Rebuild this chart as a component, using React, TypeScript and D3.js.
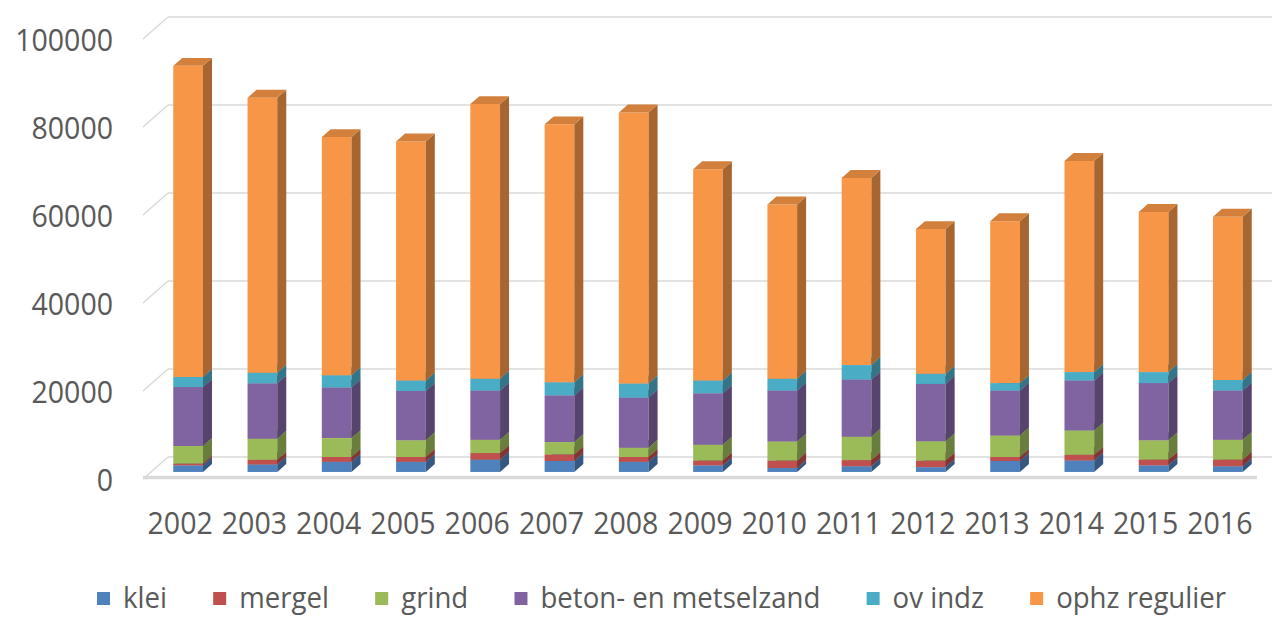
import React, { useEffect, useRef } from 'react';
import * as d3 from 'd3';

const years = ['2002', '2003', '2004', '2005', '2006', '2007', '2008', '2009', '2010', '2011', '2012', '2013', '2014', '2015', '2016'];
const klei = [1500, 1700, 2300, 2300, 2800, 2500, 2300, 1500, 900, 1300, 1100, 2500, 2600, 1500, 1300];
const mergel = [400, 1050, 1100, 1100, 1500, 1500, 1100, 1100, 1700, 1400, 1500, 900, 1300, 1300, 1500];
const grind = [4000, 4800, 4300, 3800, 3000, 2800, 2100, 3600, 4300, 5300, 4400, 4900, 5500, 4400, 4500];
const beton = [13400, 12600, 11500, 11200, 11200, 10600, 11400, 11700, 11600, 13000, 13000, 10200, 11400, 13000, 11200];
const ovIndz = [2300, 2400, 2800, 2400, 2700, 3000, 3200, 2900, 2700, 3300, 2300, 1700, 1900, 2500, 2400];
const ophz = [70700, 62500, 54100, 54300, 62400, 58600, 61600, 48000, 39600, 42500, 32900, 36800, 48000, 36400, 37100];
const yTicks = [0, 20000, 40000, 60000, 80000, 100000];

const seriesNames = ['klei', 'mergel', 'grind', 'beton- en metselzand', 'ov indz', 'ophz regulier'];
const seriesValues = [klei, mergel, grind, beton, ovIndz, ophz];
const seriesColors = ['#4f81bd', '#c0504d', '#9bbb59', '#8064a2', '#4bacc6', '#f79646'];

const W = 1272;
const H = 617;
const FONT = '"Open Sans", "Noto Sans", sans-serif';
const TEXT_COLOR = '#595959';
const GRID = '#d9d9d9';

export default function App() {
  const svgRef = useRef<SVGSVGElement>(null);

  useEffect(() => {
    if (!svgRef.current) return;
    const svg = d3.select(svgRef.current);
    svg.selectAll('*').remove();

    // oblique 3d box
    const left = 143;
    const right = 1257;
    const depthDx = 25;
    const depthDy = 22;
    const z0 = 0.32;
    const z1 = 0.68;

    const y = d3.scaleLinear().domain([0, 100000]).range([479, 39]);
    const x = d3.scaleBand<string>().domain(years).range([left, right]).padding(0);
    const barW = x.bandwidth() * 0.4;

    const px = (xv: number, z: number) => xv + z * depthDx;
    const py = (v: number, z: number) => y(v) - z * depthDy;

    // gridlines on back + left wall
    const grid = svg.append('g');
    yTicks.forEach(t => {
      grid.append('line')
        .attr('x1', px(left, 0)).attr('y1', py(t, 0))
        .attr('x2', px(left, 1)).attr('y2', py(t, 1))
        .attr('stroke', GRID).attr('stroke-width', 1.5);
      grid.append('line')
        .attr('x1', px(left, 1)).attr('y1', py(t, 1))
        .attr('x2', px(right, 1)).attr('y2', py(t, 1))
        .attr('stroke', GRID).attr('stroke-width', 1.5);
    });

    // floor front edge
    grid.append('line')
      .attr('x1', left).attr('y1', y(0) - 1.5)
      .attr('x2', right).attr('y2', y(0) - 1.5)
      .attr('stroke', GRID).attr('stroke-width', 3.5);

    // y tick labels
    svg.append('g').selectAll('text')
      .data(yTicks)
      .join('text')
      .attr('transform', d => `translate(113,${y(d) + 12}) scale(0.92,1)`)
      .attr('text-anchor', 'end')
      .attr('font-family', FONT)
      .attr('font-size', 31)
      .attr('fill', TEXT_COLOR)
      .text(d => String(d));

    // bars
    const poly = (pts: [number, number][]) => 'M' + pts.map(p => p.join(',')).join('L') + 'Z';
    const bars = svg.append('g');
    years.forEach((yr, i) => {
      const x0 = (x(yr) ?? 0) + (x.bandwidth() - barW) / 2;
      const x1 = x0 + barW;
      let base = 0;
      seriesValues.forEach((vals, s) => {
        const v0 = base;
        const v1 = base + vals[i];
        base = v1;
        const c = seriesColors[s];
        const side = d3.color(c)!.darker(1.1).toString();
        const top = d3.color(c)!.darker(0.45).toString();
        // front
        bars.append('path')
          .attr('d', poly([[px(x0, z0), py(v0, z0)], [px(x1, z0), py(v0, z0)], [px(x1, z0), py(v1, z0)], [px(x0, z0), py(v1, z0)]]))
          .attr('fill', c);
        // side
        bars.append('path')
          .attr('d', poly([[px(x1, z0), py(v0, z0)], [px(x1, z1), py(v0, z1)], [px(x1, z1), py(v1, z1)], [px(x1, z0), py(v1, z0)]]))
          .attr('fill', side);
        // top
        bars.append('path')
          .attr('d', poly([[px(x0, z0), py(v1, z0)], [px(x1, z0), py(v1, z0)], [px(x1, z1), py(v1, z1)], [px(x0, z1), py(v1, z1)]]))
          .attr('fill', top);
      });
    });

    // x labels
    svg.append('g').selectAll('text')
      .data(years)
      .join('text')
      .attr('transform', d => `translate(${(x(d) ?? 0) + x.bandwidth() / 2},534) scale(0.92,1)`)
      .attr('text-anchor', 'middle')
      .attr('font-family', FONT)
      .attr('font-size', 31)
      .attr('fill', TEXT_COLOR)
      .text(d => d);

    // legend
    const legend = svg.append('g');
    const sq = 13;
    const items = seriesNames.map((name, s) => {
      const g = legend.append('g');
      g.append('rect')
        .attr('x', 0).attr('y', 592).attr('width', sq).attr('height', sq)
        .attr('fill', seriesColors[s]);
      const t = g.append('text')
        .attr('transform', 'translate(26,608) scale(0.92,1)')
        .attr('font-family', FONT)
        .attr('font-size', 30)
        .attr('fill', TEXT_COLOR)
        .text(name);
      const w = 26 + (t.node() as SVGTextElement).getComputedTextLength() * 0.92;
      return { g, w };
    });
    const startX = 97;
    const endX = 1226;
    const total = d3.sum(items, d => d.w);
    const gap = (endX - startX - total) / (items.length - 1);
    let cx = startX;
    items.forEach(it => {
      it.g.attr('transform', `translate(${cx},0)`);
      cx += it.w + gap;
    });
  }, []);

  return (
    <svg
      ref={svgRef}
      width={W}
      height={H}
      style={{ position: 'absolute', left: 0, top: 0, background: '#fff' }}
    />
  );
}
